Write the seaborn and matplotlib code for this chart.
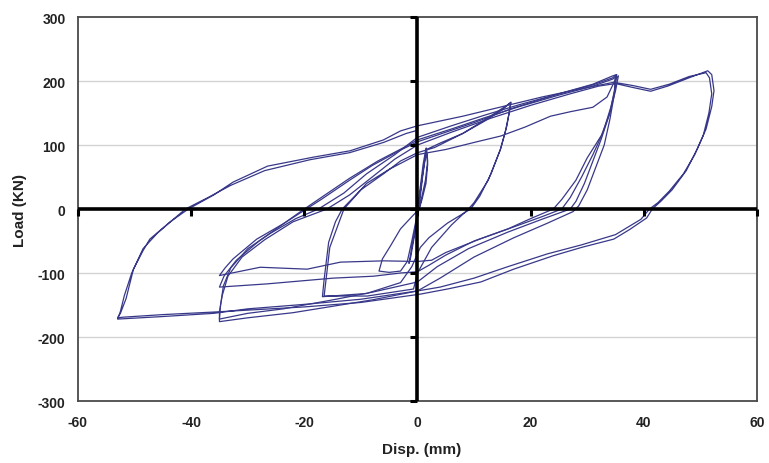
import matplotlib
matplotlib.use("Agg")
import numpy as np
import pandas as pd
import seaborn as sns
import matplotlib.pyplot as plt

# ---------------- data ----------------
x_ticks = [-60, -40, -20, 0, 20, 40, 60]
y_ticks = [-300, -200, -100, 0, 100, 200, 300]
x_label = "Disp. (mm)"
y_label = "Load (KN)"

small_disp = [0, 0.5, 1.0, 1.5, 1.8, 1.5, 0.8, 0.3, -1, -3, -4.8, -6.2, -6.8, -5, -3, -1.8, -1, -0.2,
              0.4, 1.0, 1.6, 1.8, 1.4, 0.6, 0, -0.8, -1.5, -1.2, -0.5, 0.3, 0.9, 1.6]
small_load = [0, 35, 70, 95, 70, 40, 15, 0, -12, -31, -58, -78, -97, -99, -97, -82, -50, -15,
              20, 60, 95, 75, 45, 12, -10, -50, -85, -75, -40, 5, 50, 93]

mid_disp = [1.6, 4, 8, 12, 15, 16.5, 16.2, 15.5, 14.6, 13, 11, 9.4, 5.3, 2, 0.5, -1, -3, -9, -16.8,
            -16.5, -15.7, -14.5, -13.3, -10, -6, -3, 0, 3, 8, 12, 16.5, 15.8, 14.7, 12.5, 10, 9, 6,
            2.5, 0, -0.7, -8.9, -16.5, -15.5, -13, -9, -5, 0]
mid_load = [93, 103, 118, 138, 155, 167, 150, 120, 92, 55, 20, 0, -22, -45, -60, -90, -115, -132, -137,
            -110, -52, -20, 0, 30, 55, 75, 88, 96, 118, 140, 166, 130, 94, 45, 10, 0, -25,
            -60, -100, -125, -136, -136, -60, 0, 40, 62, 85]

c35a_disp = [0, 5, 10, 14.7, 19, 23.5, 27, 31, 33.5, 35, 35.5, 35, 34, 32.5, 30, 28, 25.5, 24, 20,
             16, 11, 5, 2.5, 0, -6, -13.6, -19.5, -27.8, -35, -34, -32.6, -28.4, -23.7, -20, -17, -12,
             -8, -3, 0, 5, 10, 17, 25, 31, 34.5, 35.2]
c35a_load = [85, 93, 104, 114, 128, 145, 152, 159, 175, 203, 208, 185, 150, 115, 80, 45, 15, 0, -15,
             -31, -47, -68, -80, -82, -81, -83, -94, -91, -104, -92, -78, -47, -23, -2, 15, 45,
             68, 92, 105, 120, 135, 158, 180, 195, 208, 210]

c35b_disp = [35.2, 35, 34.2, 32.8, 31, 29, 27, 25.5, 22, 17, 10, 5, 2, 0, -3, -7.8, -14.9, -26.6,
             -35, -34.2, -32, -28, -24, -20.5, -17, -12, -7, -2, 0, 6, 12, 18, 25, 31, 34.5, 35]
c35b_load = [210, 190, 160, 120, 85, 50, 18, 0, -12, -28, -50, -72, -88, -98, -100, -105, -108, -117,
             -122, -105, -80, -50, -25, -3, 18, 48, 75, 98, 108, 125, 143, 160, 178, 192, 203, 206]

c35c_disp = [35, 34.8, 34, 32.5, 31, 29.5, 28, 27, 22, 16, 9, 3.5, 0, -8, -15, -23.7, -30, -35, -34.8,
             -34.3, -33, -30, -26, -21.5, -17.5, -13, -9, -4, 0, 6, 12, 18, 25, 31, 34.5, 35]
c35c_load = [206, 185, 150, 110, 75, 40, 12, 0, -16, -36, -62, -90, -114, -130, -142, -156, -163, -172,
             -150, -120, -92, -62, -38, -15, 0, 25, 55, 85, 112, 130, 147, 163, 180, 194, 205, 209]

c35d_disp = [35, 34.8, 34, 33, 31.5, 30, 28.5, 27.5, 23, 17, 10, 4, 0, -8, -15, -22, -30, -35, -35,
             -34.5, -33.5, -31, -27, -22, -16, -12, -8, -4, 0, 6, 13, 20, 27, 32, 35]
c35d_load = [209, 180, 140, 100, 65, 30, 5, -4, -22, -45, -75, -108, -128, -142, -152, -162, -170, -176,
             -160, -135, -105, -75, -48, -20, 0, 22, 50, 78, 100, 120, 142, 162, 180, 192, 196]

big_disp = [35, 38, 41.2, 44.2, 48, 51.3, 52, 52.4, 52, 51, 49.5, 47.5, 45, 43, 41.5, 40.5, 37.5, 34.7,
            29, 24, 17, 11.2, 5.3, 0.5, -10, -20, -30, -36, -45, -52, -53, -52.5, -51.5, -50.2, -48.5,
            -47.3, -43.7, -40.5, -36, -32.6, -26.5, -18.4, -11.9, -6, -3, 0, 8, 15, 22, 29, 34.7, 38,
            41.2, 44.5, 48, 51, 51.6, 52, 51.5, 50.5, 49, 47, 44.5, 42.5, 41, 39.5, 35, 29, 23, 16, 10,
            4, 0, -10, -20, -30, -36, -45, -53, -52.5, -51.8, -50.5, -48.5, -46, -43, -41, -37, -33,
            -27, -19, -12, -6, -2, 0]
big_load = [196, 190, 184, 192, 205, 216, 210, 185, 160, 125, 95, 60, 30, 12, 0, -14, -32, -47,
            -60, -73, -94, -114, -125, -133, -146, -153, -158, -161, -165, -169, -170, -163, -140, -94, -65,
            -47, -20, 0, 22, 42, 67, 81, 91, 108, 122, 130, 145, 160, 175, 188, 198, 193,
            187, 195, 207, 213, 205, 180, 150, 115, 85, 55, 28, 10, 0, -16, -40, -56, -70, -90, -108,
            -122, -128, -141, -149, -156, -163, -168, -172, -160, -135, -100, -62, -38, -15, 0, 18, 37,
            60, 77, 88, 104, 118, 123]

# ---------------- assemble ----------------
segments = [
    ("small", small_disp, small_load),
    ("mid", mid_disp, mid_load),
    ("c35a", c35a_disp, c35a_load),
    ("c35b", c35b_disp, c35b_load),
    ("c35c", c35c_disp, c35c_load),
    ("c35d", c35d_disp, c35d_load),
    ("big", big_disp, big_load),
]
frames = []
for name, d, l in segments:
    frames.append(pd.DataFrame({"disp": d, "load": l, "seg": name}))
df = pd.concat(frames, ignore_index=True)

sns.set_theme(style="white")
plt.rcParams["font.family"] = ["Liberation Sans", "DejaVu Sans"]
plt.rcParams["axes.unicode_minus"] = False

fig = plt.figure(figsize=(7.69, 4.64), dpi=100)
ax = fig.add_axes([0.1014, 0.1336, 0.8830, 0.8276])

# grid lines
for v in y_ticks:
    if v not in (0, y_ticks[0], y_ticks[-1]):
        ax.axhline(v, color="#d2d2d2", lw=1.0, zorder=0)

sns.lineplot(data=df, x="disp", y="load", units="seg", estimator=None, sort=False,
             color="#38388a", lw=0.9, ax=ax, zorder=2, legend=False)

# zero axes (Excel-style)
ax.axhline(0, color="black", lw=2.6, zorder=3)
ax.axvline(0, color="black", lw=2.6, zorder=3)
ax.plot(x_ticks, [0] * len(x_ticks), linestyle="none", marker=3, ms=5, mew=2.2,
        color="black", zorder=4, clip_on=False)
ax.plot([0] * len(y_ticks), y_ticks, linestyle="none", marker=0, ms=5, mew=2.2,
        color="black", zorder=4, clip_on=False)

ax.set_xlim(x_ticks[0], x_ticks[-1])
ax.set_ylim(y_ticks[0], y_ticks[-1])
ax.set_xticks(x_ticks)
ax.set_yticks(y_ticks)
ax.set_xticklabels([str(t) for t in x_ticks], fontweight="bold", fontsize=10, color="#222222")
ax.set_yticklabels([str(t) for t in y_ticks], fontweight="bold", fontsize=10, color="#222222")
ax.tick_params(axis="both", length=0)
ax.tick_params(axis="x", pad=10)
ax.tick_params(axis="y", pad=9)

for sp in ax.spines.values():
    sp.set_color("#4a4a4a")
    sp.set_linewidth(1.3)

ax.set_xlabel(x_label, fontweight="bold", fontsize=11, color="#222222")
ax.set_ylabel(y_label, fontweight="bold", fontsize=11, color="#222222")
ax.xaxis.set_label_coords(0.506, -0.108)
ax.yaxis.set_label_coords(-0.075, 0.5)

fig.savefig("out.png", dpi=100)
